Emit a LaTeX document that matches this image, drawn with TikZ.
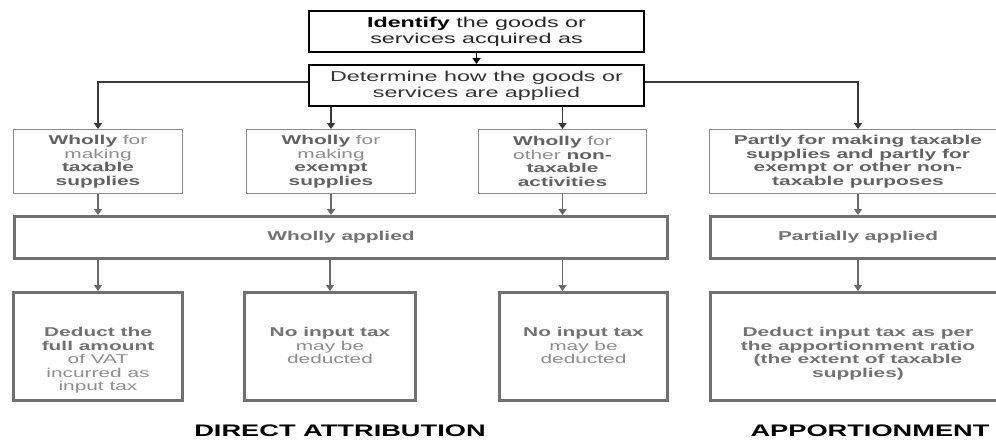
\documentclass[tikz,border=0pt]{standalone}
\usepackage{fontspec}
\setmainfont[FakeStretch=1.63]{Liberation Sans}
\usetikzlibrary{arrows.meta,calc}

\definecolor{conngray}{HTML}{6A6A6A}
\definecolor{darkconn}{HTML}{3A3A3A}
\definecolor{thinframe}{HTML}{8C8C8C}
\definecolor{thickframe}{HTML}{707070}
\definecolor{boldtxt}{HTML}{626262}
\definecolor{softtxt}{HTML}{8E8E8E}
\definecolor{midtxt}{HTML}{727272}

\newcommand{\bodyfont}{\fontsize{12.8}{13.5}\selectfont}
\newcommand{\B}[1]{\textbf{\color{boldtxt}#1}}
\newcommand{\R}[1]{{\color{softtxt}#1}}

\tikzset{
  topbox/.style={draw=black, line width=2pt, minimum width=335pt, minimum height=41pt,
    inner sep=0pt, fill=white},
  choicebox/.style={draw=thinframe, line width=1.4pt, minimum height=63.5pt, inner sep=0pt,
    align=center, font=\bodyfont},
  applybox/.style={draw=thickframe, line width=3pt, minimum height=42pt, inner sep=0pt,
    align=center, font=\bodyfont\bfseries, text=midtxt},
  resultbox/.style={draw=thickframe, line width=3pt, minimum height=108pt, inner sep=0pt},
  resulttext/.style={align=center, font=\bodyfont, inner sep=0pt, anchor=north},
  conn/.style={draw=conngray, line width=1.4pt, -{Triangle[width=8pt,length=6pt]}},
  mainconn/.style={draw=darkconn, line width=1.6pt, -{Triangle[width=8pt,length=6pt]}},
  heading/.style={font=\fontsize{16.7}{18}\selectfont\bfseries, text=black, anchor=base, inner sep=0pt}
}

\begin{document}
\begin{tikzpicture}[x=1pt,y=-1pt]
\useasboundingbox (0,0) rectangle (996,441);
\clip (0,0) rectangle (996,441);
\fill[white] (0,0) rectangle (996,441);

% top of the chart
\node[topbox] (ident) at (476.5,31.5) {};
\node[font=\fontsize{14.3}{16}\selectfont, align=center, inner sep=0pt, anchor=north, text={black!85}]
  (identtext) at (476.5,17) {\textbf{\color{black}Identify} the goods or\\services acquired as};
\node[topbox, font=\fontsize{14.3}{16}\selectfont, align=center, text={black!80}]
  (det) at (476.5,85.5) {Determine how the goods or\\services are applied};

% how the goods or services are used
\node[choicebox, minimum width=168.5pt] (w1) at (98,161.5)
  {\B{Wholly} \R{for}\\\R{making}\\\B{taxable}\\\B{supplies}};
\node[choicebox, minimum width=168.5pt] (w2) at (331,161.5)
  {\B{Wholly} \R{for}\\\R{making}\\\B{exempt}\\\B{supplies}};
\node[choicebox, minimum width=167.5pt] (w3) at (562.5,161.5)
  {\B{Wholly} \R{for}\\\R{other} \B{non-}\\\B{taxable}\\\B{activities}};
\node[choicebox, minimum width=296.5pt] (w4) at (858,161.5)
  {\B{Partly for making taxable}\\\B{supplies and partly for}\\\B{exempt or other non-}\\\B{taxable purposes}};

% wholly / partially applied
\node[applybox, minimum width=653pt] (wa) at (341,237.5) {Wholly applied};
\node[applybox, minimum width=295pt] (pa) at (858,237.5) {Partially applied};

% outcomes
\node[resultbox, minimum width=169pt] (rA) at (98,346.5) {};
\node[resultbox, minimum width=171pt] (rB) at (330,346.5) {};
\node[resultbox, minimum width=168pt] (rC) at (583.5,346.5) {};
\node[resultbox, minimum width=295pt] (rD) at (858,346.5) {};

\node[resulttext] (tA) at (98,327.5)
  {\B{\color{midtxt}Deduct the}\\\B{\color{midtxt}full amount}\\\R{of VAT}\\\R{incurred as}\\\R{input tax}};
\node[resulttext] (tB) at (330,327.5)
  {\B{\color{midtxt}No input tax}\\\R{may be}\\\R{deducted}};
\node[resulttext] (tC) at (583.5,327.5)
  {\B{\color{midtxt}No input tax}\\\R{may be}\\\R{deducted}};
\node[resulttext, font=\bodyfont\bfseries, text=midtxt] (tD) at (858,327.5)
  {Deduct input tax as per\\the apportionment ratio\\(the extent of taxable\\supplies)};

% headings
\node[heading] (hDA) at (340,436) {DIRECT ATTRIBUTION};
\node[heading] (hAP) at (870,436) {APPORTIONMENT};

% connectors
\draw[draw=black, line width=1.4pt, -{Triangle[width=8pt,length=6pt]}] (ident.south) -- (det.north);
\draw[mainconn] ($(det.west)+(0,-3.5)$) -| (w1.north);
\draw[mainconn] ($(det.east)+(0,-3.5)$) -| (w4.north);
\draw[mainconn] (det.south -| w2.north) -- (w2.north);
\draw[mainconn] (det.south -| w3.north) -- (w3.north);

\draw[conn] (w1.south) -- (w1.south |- wa.north);
\draw[conn] (w2.south) -- (w2.south |- wa.north);
\draw[conn] (w3.south) -- (w3.south |- wa.north);
\draw[conn] (w4.south) -- (pa.north);

\draw[conn] (w1.south |- wa.south) -- (w1.south |- rA.north);
\draw[conn] (rB.north |- wa.south) -- (rB.north);
\draw[conn] (w3.south |- wa.south) -- (w3.south |- rC.north);
\draw[conn] (pa.south) -- (rD.north);
\end{tikzpicture}
\end{document}
